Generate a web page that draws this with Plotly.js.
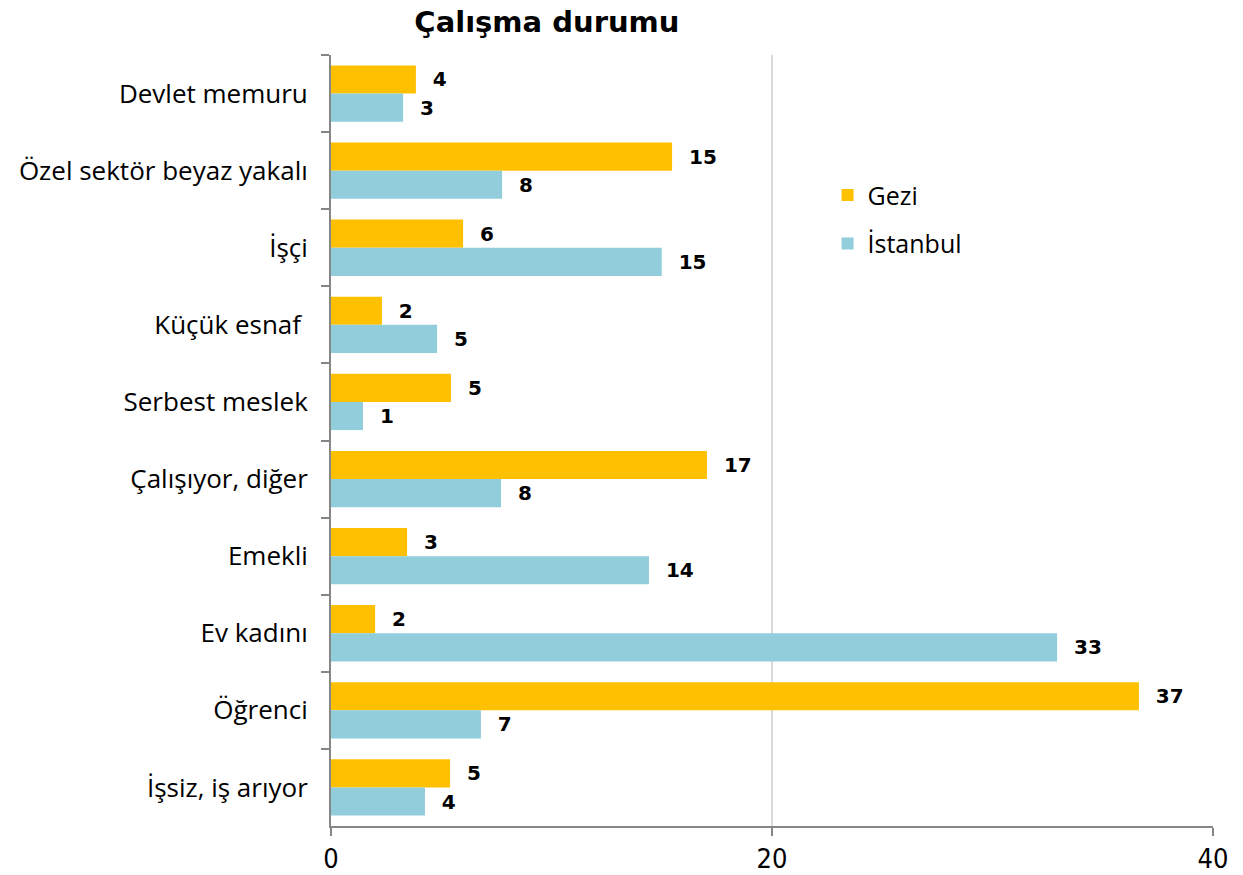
<!DOCTYPE html>
<html>
<head>
<meta charset="utf-8">
<script src="https://cdn.plot.ly/plotly-3.0.1.min.js"></script>
<style>body{margin:0;padding:0;background:#fff}#chart{width:1243px;height:875px}</style>
</head>
<body>
<div id="chart"></div>
<script>
const categories = ["Devlet memuru","Özel sektör beyaz yakalı","İşçi","Küçük esnaf ","Serbest meslek","Çalışıyor, diğer","Emekli","Ev kadını","Öğrenci","İşsiz, iş arıyor"];
const geziValues = [3.85, 15.47, 5.99, 2.31, 5.44, 17.05, 3.45, 2.0, 36.64, 5.40];
const istanbulValues = [3.27, 7.76, 15.0, 4.81, 1.45, 7.71, 14.42, 32.93, 6.8, 4.26];
const xTicks = [0, 20, 40];

const labelFont = {family: "'DejaVu Sans', sans-serif", size: 20, color: "#000", weight: 900};

const traces = [
  {type: "bar", orientation: "h", name: "Gezi", y: categories, x: geziValues,
   marker: {color: "#FFC000"}, legendgroup: "a",
   texttemplate: "\u00a0\u00a0%{x:.0f}", textposition: "outside", cliponaxis: false,
   textfont: labelFont, hoverinfo: "x+y"},
  {type: "bar", orientation: "h", name: "İstanbul", y: categories, x: istanbulValues,
   marker: {color: "#92CDDC"}, legendgroup: "b",
   texttemplate: "\u00a0\u00a0%{x:.0f}", textposition: "outside", cliponaxis: false,
   textfont: labelFont, hoverinfo: "x+y"}
];

const layout = {
  width: 1243, height: 875,
  margin: {l: 331, r: 30, t: 55, b: 49},
  paper_bgcolor: "#fff", plot_bgcolor: "#fff",
  barmode: "group", bargap: 0.27, bargroupgap: 0,
  title: {text: "<b>Çalışma durumu</b>", font: {family: "'DejaVu Sans', sans-serif", size: 29, color: "#000"},
          x: 0.44, xref: "container", xanchor: "center", y: 0.975, yref: "container", yanchor: "middle"},
  showlegend: true,
  legend: {x: 0.563, y: 0.848, xanchor: "left", yanchor: "top", tracegroupgap: 13,
           font: {family: "'Open Sans', 'Liberation Sans', sans-serif", size: 25, color: "#000"},
           bgcolor: "rgba(0,0,0,0)", itemwidth: 30, traceorder: "grouped"},
  xaxis: {range: [0, 40], tickvals: xTicks, ticktext: xTicks.map(String),
          showgrid: true, gridcolor: "#D9D9D9", gridwidth: 1.5, zeroline: false,
          showline: true, linecolor: "#868686", linewidth: 2,
          ticks: "outside", ticklen: 8, tickcolor: "#868686", tickwidth: 2,
          tickfont: {family: "'Liberation Sans Narrow', 'DejaVu Sans Condensed', sans-serif", size: 27, color: "#000"},
          fixedrange: true},
  yaxis: {type: "category", autorange: "reversed", showgrid: false, zeroline: false,
          showline: true, linecolor: "#868686", linewidth: 2,
          ticks: "outside", tickson: "boundaries", ticklen: 8, tickcolor: "#868686", tickwidth: 2,
          ticklabelstandoff: 16,
          tickfont: {family: "'Open Sans', 'Liberation Sans', sans-serif", size: 26, color: "#000"},
          fixedrange: true}
};

Plotly.newPlot("chart", traces, layout, {displayModeBar: false, staticPlot: true});
</script>
</body>
</html>
